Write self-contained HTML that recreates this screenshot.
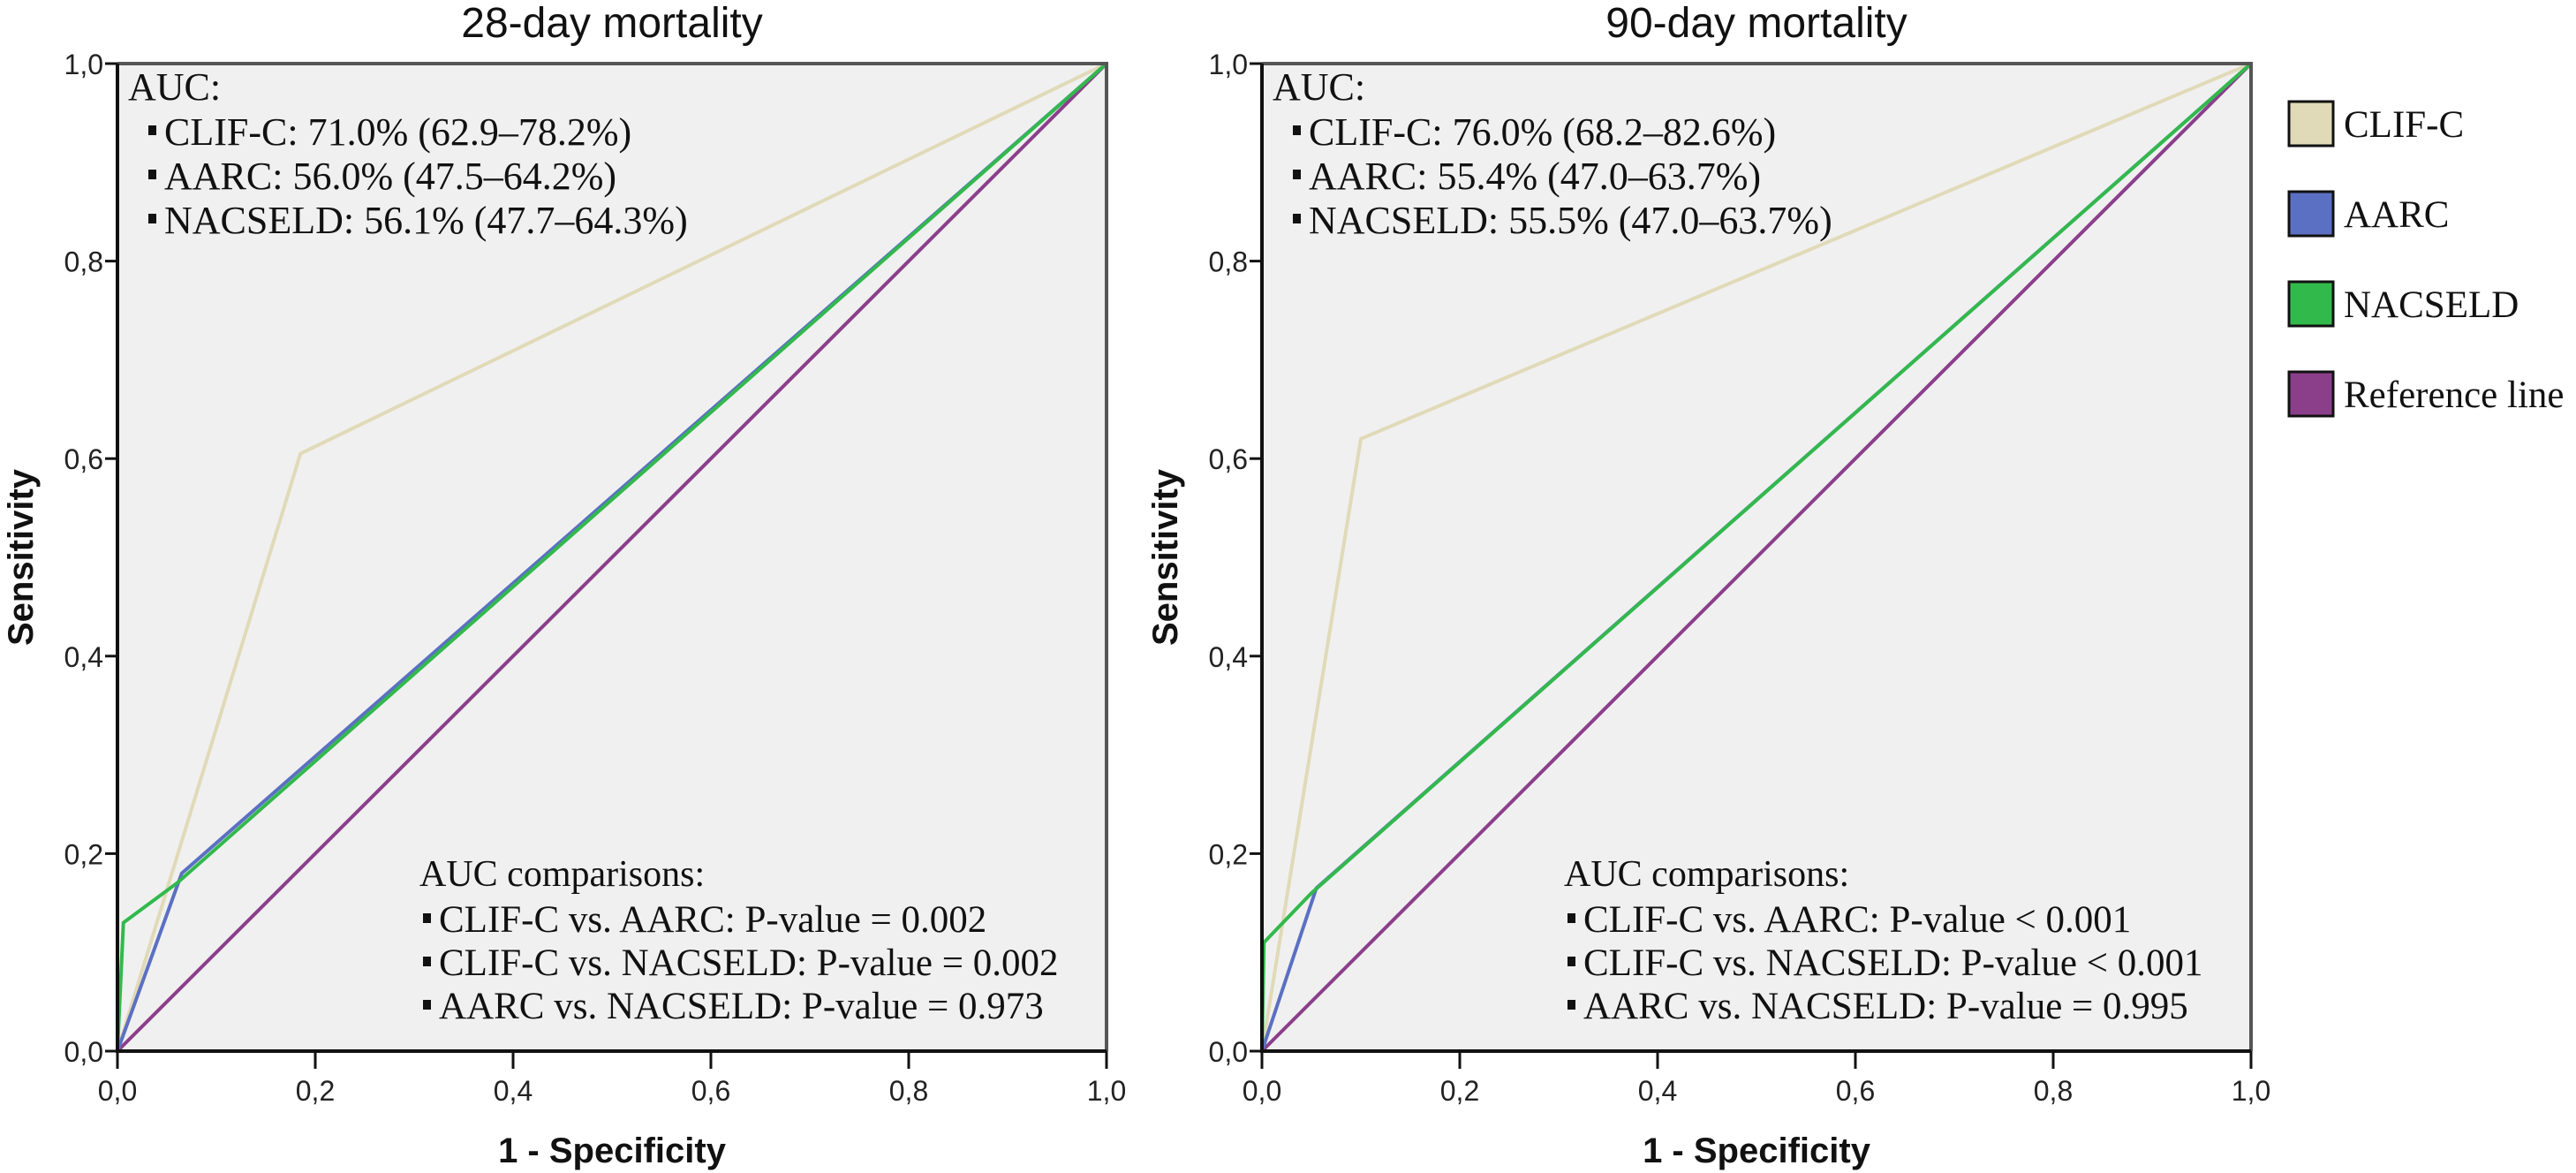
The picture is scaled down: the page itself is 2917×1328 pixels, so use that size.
<!DOCTYPE html>
<html><head><meta charset="utf-8"><style>
html,body{margin:0;padding:0;background:#fff;}
svg{display:block;}
</style></head><body>
<svg id="chart" width="2917" height="1328" xmlns="http://www.w3.org/2000/svg"></svg>
<script>
const ticks=[0,0.2,0.4,0.6,0.8,1.0];
const tickLabels=["0,0","0,2","0,4","0,6","0,8","1,0"];
const seriesNames=["CLIF-C","AARC","NACSELD","Reference line"];
const seriesColors=["#e0dab8","#5b70c2","#32b94c","#8b3f8b"];
const p1ClifX=[0,0.185,1], p1ClifY=[0,0.605,1];
const p1AarcX=[0,0.065,1], p1AarcY=[0,0.18,1];
const p1NacX=[0,0.006,0.06,1], p1NacY=[0,0.13,0.17,1];
const p2ClifX=[0,0.10,1], p2ClifY=[0,0.62,1];
const p2AarcX=[0,0.055,1], p2AarcY=[0,0.165,1];
const p2NacX=[0,0.002,0.05,1], p2NacY=[0,0.11,0.16,1];
const refX=[0,1], refY=[0,1];
const titles=["28-day mortality","90-day mortality"];
const aucLines1=["CLIF-C: 71.0% (62.9–78.2%)","AARC: 56.0% (47.5–64.2%)","NACSELD: 56.1% (47.7–64.3%)"];
const aucLines2=["CLIF-C: 76.0% (68.2–82.6%)","AARC: 55.4% (47.0–63.7%)","NACSELD: 55.5% (47.0–63.7%)"];
const cmpLines1=["CLIF-C vs. AARC: P-value = 0.002","CLIF-C vs. NACSELD: P-value = 0.002","AARC vs. NACSELD: P-value = 0.973"];
const cmpLines2=["CLIF-C vs. AARC: P-value < 0.001","CLIF-C vs. NACSELD: P-value < 0.001","AARC vs. NACSELD: P-value = 0.995"];

const NS="http://www.w3.org/2000/svg";
const svg=document.getElementById('chart');
function mk(tag,attrs,parent){const e=document.createElementNS(NS,tag);for(const k in attrs)e.setAttribute(k,attrs[k]);(parent||svg).appendChild(e);return e;}
const SERIF='"Liberation Serif", serif', SANS='"Liberation Sans", sans-serif';

function panel(idx,left,series,aucLines,cmpLines){
  const top=72,bottom=1190,w=1120,right=left+w;
  const sx=v=>left+v*w, sy=v=>bottom-v*(bottom-top);
  const g=mk('g',{});
  
  
  const bg=mk('rect',{x:left,y:top,width:w,height:bottom-top,fill:'#f0f0f0'},g);
  
  
  const t=mk('text',{x:left+w/2,y:42,'text-anchor':'middle','font-family':SANS,'font-size':48,fill:'#111'},g);
  t.textContent=titles[idx];
  
  
  series.forEach((s,i)=>{
    const pts=s.x.map((xv,j)=>sx(xv)+','+sy(s.y[j])).join(' ');
    const pl=mk('polyline',{points:pts,fill:'none',stroke:seriesColors[s.c],'stroke-width':4,'stroke-linejoin':'round'},g);
    
    
  });
  mk('polyline',{points:`${left},${top} ${right},${top} ${right},${bottom}`,fill:'none',stroke:'#555','stroke-width':4},g);
  const ax=mk('polyline',{points:`${left},${top} ${left},${bottom} ${right},${bottom}`,fill:'none',stroke:'#111','stroke-width':4},g);
  
  
  ticks.forEach((v,i)=>{
    mk('line',{x1:sx(v),y1:bottom,x2:sx(v),y2:bottom+20,stroke:'#111','stroke-width':3},g);
    const xl=mk('text',{x:sx(v),y:bottom+56,'text-anchor':'middle','font-family':SANS,'font-size':32,fill:'#222'},g);
    xl.textContent=tickLabels[i];
    
    
    mk('line',{x1:left-14,y1:sy(v),x2:left,y2:sy(v),stroke:'#111','stroke-width':3},g);
    const yl=mk('text',{x:left-16,y:sy(v)+12,'text-anchor':'end','font-family':SANS,'font-size':32,fill:'#222'},g);
    yl.textContent=tickLabels[i];
    
    
  });
  const xt=mk('text',{x:left+w/2,y:1316,'text-anchor':'middle','font-family':SANS,'font-size':40,'font-weight':'bold',fill:'#111'},g);
  xt.textContent='1 - Specificity';
  
  
  const yt=mk('text',{x:0,y:0,transform:`translate(${left-96},631) rotate(-90)`,'text-anchor':'middle','font-family':SANS,'font-size':40,'font-weight':'bold',fill:'#111'},g);
  yt.textContent='Sensitivity';
  
  
  const a=mk('text',{x:left+12,y:113,'font-family':SERIF,'font-size':44,fill:'#111'},g);
  a.textContent='AUC:';
  
  
  aucLines.forEach((s,i)=>{
    const y=164+i*50;
    mk('rect',{x:left+35,y:y-22,width:9,height:11,fill:'#111'},g);
    const tx=mk('text',{x:left+53,y:y,'font-family':SERIF,'font-size':44,fill:'#111'},g);
    tx.textContent=s;
    
    
  });
  const c=mk('text',{x:left+342,y:1003,'font-family':SERIF,'font-size':42,fill:'#111'},g);
  c.textContent='AUC comparisons:';
  
  
  cmpLines.forEach((s,i)=>{
    const y=1055+i*49;
    mk('rect',{x:left+346,y:y-21,width:9,height:11,fill:'#111'},g);
    const tx=mk('text',{x:left+364,y:y,'font-family':SERIF,'font-size':43,fill:'#111'},g);
    tx.textContent=s;
    
    
  });
}
panel(0,133,[{x:refX,y:refY,c:3},{x:p1ClifX,y:p1ClifY,c:0},{x:p1AarcX,y:p1AarcY,c:1},{x:p1NacX,y:p1NacY,c:2}],aucLines1,cmpLines1);
panel(1,1429,[{x:refX,y:refY,c:3},{x:p2ClifX,y:p2ClifY,c:0},{x:p2AarcX,y:p2AarcY,c:1},{x:p2NacX,y:p2NacY,c:2}],aucLines2,cmpLines2);

seriesNames.forEach((n,i)=>{
  const y=115+i*102;
  const r=mk('rect',{x:2592,y:y,width:50,height:50,fill:seriesColors[i],stroke:'#111','stroke-width':3});
  
  
  const t=mk('text',{x:2654,y:y+40,'font-family':SERIF,'font-size':43,fill:'#111'});
  t.textContent=n;
  
  
});
</script>
</body></html>
